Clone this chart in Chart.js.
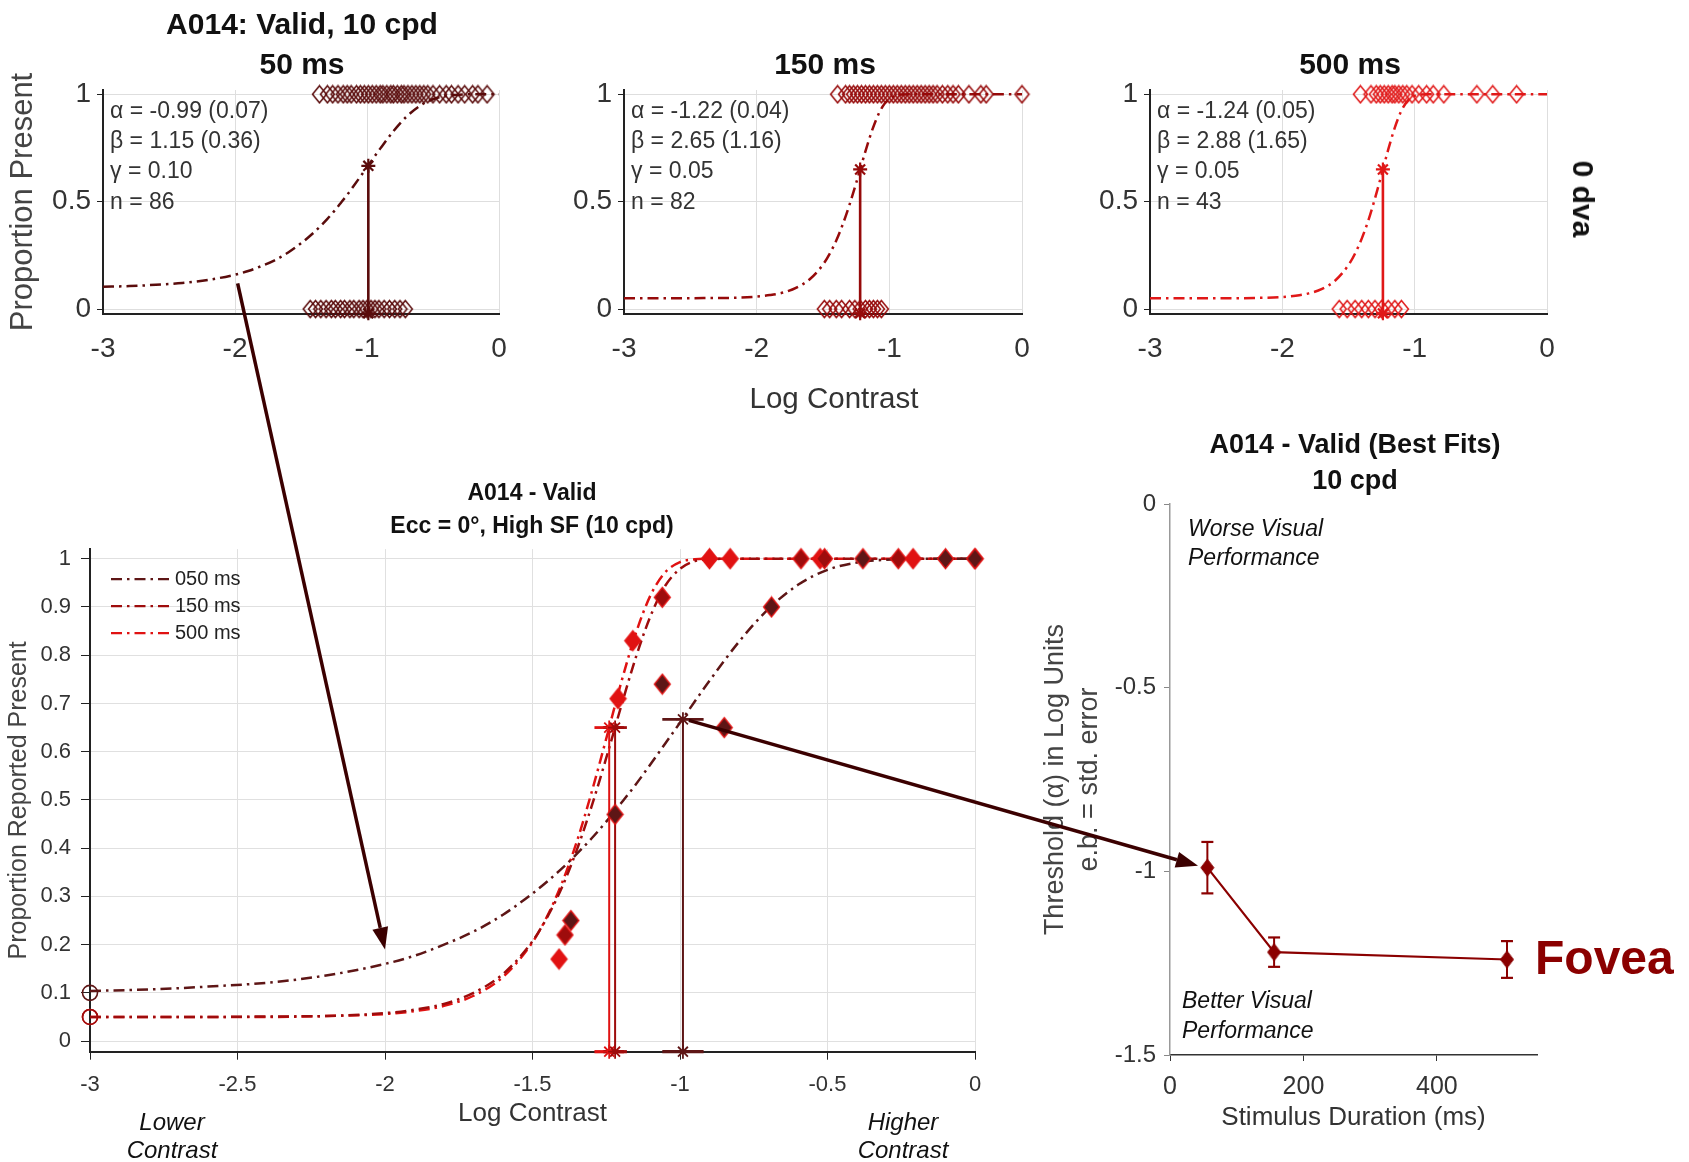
<!DOCTYPE html>
<html>
<head>
<meta charset="utf-8">
<script src="https://cdn.jsdelivr.net/npm/chart.js@4.4.1/dist/chart.umd.min.js"></script>
<style>
html,body{margin:0;padding:0;background:#fff;}
#root{position:relative;width:1689px;height:1162px;overflow:hidden;background:#fff;font-family:"Liberation Sans",Arial,sans-serif;}
canvas{position:absolute;}
.c{position:absolute;white-space:nowrap;transform:translate(-50%,-50%);color:#111;z-index:6;}
.l{position:absolute;white-space:nowrap;transform:translate(0,-50%);color:#333;z-index:6;}
.b{font-weight:bold;}
.n{font-family:"Liberation Sans Narrow","Liberation Sans",Arial,sans-serif;}
.i{font-style:italic;}
</style>
</head>
<body>
<div id="root">
  <canvas id="p1" width="530" height="380" style="left:0;top:0"></canvas>
  <canvas id="p2" width="500" height="380" style="left:540px;top:0"></canvas>
  <canvas id="p3" width="500" height="380" style="left:1066px;top:0"></canvas>
  <canvas id="main" width="1000" height="622" style="left:0;top:540px"></canvas>
  <canvas id="summary" width="669" height="682" style="left:1020px;top:480px"></canvas>
  <canvas id="arrows" width="1689" height="1162" style="left:0;top:0;z-index:5"></canvas>

  <div class="c b" style="left:302px;top:24px;font-size:30px">A014: Valid, 10 cpd</div>
  <div class="c b" style="left:302px;top:64px;font-size:30px">50 ms</div>
  <div class="c b" style="left:825px;top:64px;font-size:30px">150 ms</div>
  <div class="c b" style="left:1350px;top:64px;font-size:30px">500 ms</div>
  <div class="c b" style="left:1583px;top:199px;font-size:30px;transform:translate(-50%,-50%) rotate(90deg)">0 dva</div>
  <div class="c" style="left:834px;top:398px;font-size:29.5px;color:#333">Log Contrast</div>

  <div class="l" style="left:110px;top:110px;font-size:23px">α = -0.99 (0.07)</div>
  <div class="l" style="left:110px;top:140px;font-size:23px">β = 1.15 (0.36)</div>
  <div class="l" style="left:110px;top:170px;font-size:23px">γ = 0.10</div>
  <div class="l" style="left:110px;top:201px;font-size:23px">n = 86</div>

  <div class="l" style="left:631px;top:110px;font-size:23px">α = -1.22 (0.04)</div>
  <div class="l" style="left:631px;top:140px;font-size:23px">β = 2.65 (1.16)</div>
  <div class="l" style="left:631px;top:170px;font-size:23px">γ = 0.05</div>
  <div class="l" style="left:631px;top:201px;font-size:23px">n = 82</div>

  <div class="l" style="left:1157px;top:110px;font-size:23px">α = -1.24 (0.05)</div>
  <div class="l" style="left:1157px;top:140px;font-size:23px">β = 2.88 (1.65)</div>
  <div class="l" style="left:1157px;top:170px;font-size:23px">γ = 0.05</div>
  <div class="l" style="left:1157px;top:201px;font-size:23px">n = 43</div>

  <div class="c b" style="left:532px;top:492px;font-size:23px">A014 - Valid</div>
  <div class="c b" style="left:532px;top:525px;font-size:23px">Ecc = 0°, High SF (10 cpd)</div>
  <div class="c i n" style="left:172px;top:1122px;font-size:24px">Lower</div>
  <div class="c i n" style="left:172px;top:1150px;font-size:24px">Contrast</div>
  <div class="c i n" style="left:903px;top:1122px;font-size:24px">Higher</div>
  <div class="c i n" style="left:903px;top:1150px;font-size:24px">Contrast</div>

  <div class="c b" style="left:1355px;top:444px;font-size:27px">A014 - Valid (Best Fits)</div>
  <div class="c b" style="left:1355px;top:480px;font-size:27px">10 cpd</div>
  <div class="l i" style="left:1188px;top:528px;font-size:23px;color:#111">Worse Visual</div>
  <div class="l i" style="left:1188px;top:557px;font-size:23px;color:#111">Performance</div>
  <div class="l i" style="left:1182px;top:1000px;font-size:23px;color:#111">Better Visual</div>
  <div class="l i" style="left:1182px;top:1030px;font-size:23px;color:#111">Performance</div>
  <div class="l b" style="left:1535px;top:957px;font-size:48px;color:#8b0000">Fovea</div>
</div>

<script>
// ---------- DATA ----------
const logContrastGrid = [-3, -2.8, -2.6, -2.4, -2.2, -2.0, -1.9, -1.8, -1.7, -1.6, -1.5, -1.45, -1.4, -1.35, -1.3, -1.25, -1.2, -1.15, -1.1, -1.05, -1.0, -0.95, -0.9, -0.8, -0.7, -0.6, -0.5, -0.4, -0.3, -0.2, -0.1, 0];
const fit050 = [0.104, 0.107, 0.113, 0.121, 0.136, 0.160, 0.177, 0.200, 0.227, 0.262, 0.306, 0.331, 0.358, 0.388, 0.420, 0.455, 0.493, 0.532, 0.574, 0.617, 0.660, 0.704, 0.747, 0.828, 0.896, 0.946, 0.977, 0.992, 0.998, 1.000, 1.000, 1.000];
const fit150 = [0.050, 0.050, 0.050, 0.051, 0.052, 0.058, 0.065, 0.077, 0.100, 0.139, 0.207, 0.257, 0.319, 0.396, 0.486, 0.587, 0.693, 0.795, 0.881, 0.944, 0.979, 0.995, 0.999, 1.000, 1.000, 1.000, 1.000, 1.000, 1.000, 1.000, 1.000, 1.000];
const fit500 = [0.050, 0.050, 0.050, 0.050, 0.052, 0.056, 0.062, 0.073, 0.094, 0.133, 0.205, 0.259, 0.328, 0.413, 0.515, 0.627, 0.742, 0.845, 0.924, 0.972, 0.993, 0.999, 1.000, 1.000, 1.000, 1.000, 1.000, 1.000, 1.000, 1.000, 1.000, 1.000];

const durationLabels = ['050 ms', '150 ms', '500 ms'];
const alphaFit = [-0.99, -1.22, -1.24];
const alphaSE = [0.07, 0.04, 0.05];
const thresholdLevel = [0.667, 0.650, 0.650];

// single-trial responses (x = log contrast) for the top panels
const present050 = [-1.36, -1.30, -1.26, -1.22, -1.18, -1.15, -1.12, -1.08, -1.05, -1.02, -0.99, -0.96, -0.93, -0.90, -0.88, -0.85, -0.82, -0.80, -0.77, -0.74, -0.72, -0.69, -0.66, -0.63, -0.60, -0.57, -0.54, -0.50, -0.45, -0.40, -0.36, -0.31, -0.26, -0.20, -0.16, -0.09];
const absent050 = [-1.43, -1.39, -1.35, -1.31, -1.27, -1.24, -1.20, -1.17, -1.13, -1.10, -1.06, -1.03, -1.00, -0.97, -0.94, -0.91, -0.87, -0.83, -0.79, -0.75, -0.71];
const present150 = [-1.39, -1.33, -1.30, -1.27, -1.24, -1.21, -1.18, -1.15, -1.12, -1.09, -1.06, -1.03, -1.00, -0.97, -0.94, -0.91, -0.88, -0.85, -0.82, -0.79, -0.76, -0.73, -0.70, -0.67, -0.64, -0.60, -0.56, -0.52, -0.48, -0.40, -0.31, -0.27, 0.0];
const absent150 = [-1.49, -1.45, -1.40, -1.36, -1.30, -1.26, -1.22, -1.18, -1.15, -1.12, -1.09, -1.06];
const present500 = [-1.41, -1.33, -1.29, -1.26, -1.23, -1.20, -1.17, -1.15, -1.12, -1.09, -1.06, -1.02, -0.97, -0.91, -0.86, -0.78, -0.53, -0.41, -0.23];
const absent500 = [-1.57, -1.51, -1.45, -1.40, -1.35, -1.30, -1.25, -1.20, -1.15, -1.10];

// binned proportions for the combined panel
const bin050X = [-1.37, -1.22, -1.06, -0.85, -0.69, -0.38, -0.10, 0.0];
const bin050Y = [0.25, 0.47, 0.74, 0.65, 0.90, 1, 1, 1];
const bin150X = [-1.39, -1.06, -0.59, -0.51, -0.26, 0.0];
const bin150Y = [0.22, 0.92, 1, 1, 1, 1];
const bin500X = [-1.41, -1.21, -1.16, -0.90, -0.83, -0.525, -0.21];
const bin500Y = [0.17, 0.71, 0.83, 1, 1, 1, 1];
const catchX = -3;
const catchY = [0.10, 0.05, 0.05];

// summary panel
const durationMs = [56, 156, 505];

// ticks
const topXTicks = [-3, -2, -1, 0];
const topYTicks = [0, 0.5, 1];
const mainXTicks = [-3, -2.5, -2, -1.5, -1, -0.5, 0];
const mainYTicks = [0, 0.1, 0.2, 0.3, 0.4, 0.5, 0.6, 0.7, 0.8, 0.9, 1];
const sumXTicks = [0, 200, 400];
const sumYTicks = [0, -0.5, -1, -1.5];

// arrows (data coordinates in their panels)
const arrow1From = [-1.98, 0.12];   // top-left panel
const arrow1To = [-2.0, 0.19];      // combined panel
const arrow2From = [-0.97, 0.665];  // combined panel
const arrow2To = [42, -0.985];      // summary panel

// ---------- STYLE ----------
const FONT = '"Liberation Sans", Arial, sans-serif';
const NARROW = '"Liberation Sans Narrow", "Liberation Sans", Arial, sans-serif';
const topColors = ['#5a0c0c', '#960a0a', '#e01818'];
const mainColors = ['#5e1616', '#9e0c0c', '#e01212'];
const DASH = [11, 5, 2.5, 5];

const fits = [fit050, fit150, fit500];
const presents = [present050, present150, present500];
const absents = [absent050, absent150, absent500];

function fixedTicks(arr) { return s => { s.ticks = arr.map(v => ({ value: v })); }; }

// MATLAB-like diamond marker (taller than wide)
function diamond(w, h, stroke, fill, lw) {
  const c = document.createElement('canvas');
  c.width = Math.ceil(w + lw * 2); c.height = Math.ceil(h + lw * 2);
  const g = c.getContext('2d');
  const cx = c.width / 2, cy = c.height / 2;
  g.beginPath();
  g.moveTo(cx, cy - h / 2); g.lineTo(cx + w / 2, cy); g.lineTo(cx, cy + h / 2); g.lineTo(cx - w / 2, cy); g.closePath();
  if (fill) { g.fillStyle = fill; g.fill(); }
  if (stroke) { g.strokeStyle = stroke; g.lineWidth = lw; g.stroke(); }
  return c;
}

function topPanel(id, k, yW, padR, withTitle) {
  const color = topColors[k];
  const mk = diamond(14, 17, color, null, 1.5);
  return new Chart(document.getElementById(id), {
    type: 'line',
    data: { datasets: [
      { data: presents[k].map(x => ({ x, y: 1 })), showLine: false, pointStyle: mk, clip: false, order: 1 },
      { data: absents[k].map(x => ({ x, y: 0 })), showLine: false, pointStyle: mk, clip: false, order: 1 },
      { data: [{ x: alphaFit[k], y: thresholdLevel[k] }, { x: alphaFit[k], y: -0.02 }], borderColor: color, borderWidth: 2.6,
        pointStyle: 'star', pointRadius: 7, pointBorderColor: color, pointBorderWidth: 2.2, clip: false, order: 0 },
      { data: logContrastGrid.map((x, i) => ({ x, y: fits[k][i] })), borderColor: color, borderWidth: 2.5, borderDash: DASH,
        pointRadius: 0, cubicInterpolationMode: 'monotone', order: 2 }
    ]},
    options: {
      responsive: false, animation: false, events: [],
      layout: { padding: { left: 0, right: padR, top: 90, bottom: 0 } },
      plugins: { legend: { display: false }, tooltip: { enabled: false } },
      scales: {
        x: { type: 'linear', min: -3, max: 0, afterBuildTicks: fixedTicks(topXTicks),
          afterFit: s => { s.height = 66; s.paddingLeft = 0; s.paddingRight = 0; },
          grid: { color: '#dedede', lineWidth: 1, drawTicks: false },
          border: { display: true, color: '#222', width: 2 },
          ticks: { padding: 18, color: '#333', font: { size: 28, family: FONT }, maxRotation: 0, autoSkip: false, callback: v => String(v) } },
        y: { type: 'linear', min: -0.023, max: 1.02, afterBuildTicks: fixedTicks(topYTicks),
          afterFit: s => { s.width = yW; s.paddingTop = 0; s.paddingBottom = 0; },
          grid: { color: '#dedede', lineWidth: 1, tickLength: 6, tickColor: '#222' },
          border: { display: true, color: '#222', width: 2 },
          ticks: { padding: 6, color: '#333', font: { size: 28, family: FONT }, callback: v => String(v) },
          title: withTitle ? { display: true, text: 'Proportion Present', color: '#444', font: { size: 31, family: FONT }, padding: { top: 5, bottom: 0 } } : { display: false } }
      }
    }
  });
}

const p1 = topPanel('p1', 0, 103, 31, true);
const p2 = topPanel('p2', 1, 84, 18, false);
const p3 = topPanel('p3', 2, 84, 19, false);

// ---------- combined panel ----------
const insideLegend = {
  id: 'insideLegend',
  afterDraw(chart) {
    const { ctx, chartArea } = chart;
    ctx.save();
    durationLabels.forEach((lab, k) => {
      const y = chartArea.top + 30 + k * 27;
      ctx.strokeStyle = mainColors[k]; ctx.lineWidth = 2.4; ctx.setLineDash(DASH);
      ctx.beginPath(); ctx.moveTo(chartArea.left + 21, y); ctx.lineTo(chartArea.left + 80, y); ctx.stroke();
      ctx.setLineDash([]);
      ctx.fillStyle = '#222'; ctx.font = '20px ' + FONT; ctx.textBaseline = 'middle'; ctx.textAlign = 'left';
      ctx.fillText(lab, chartArea.left + 85, y);
    });
    ctx.restore();
  }
};

const BOT = -0.022;
const binsX = [bin050X, bin150X, bin500X];
const binsY = [bin050Y, bin150Y, bin500Y];
const mainSets = [];
[0, 1, 2].forEach(k => {
  const c = mainColors[k];
  mainSets.push({ label: durationLabels[k], data: logContrastGrid.map((x, i) => ({ x, y: fits[k][i] })), borderColor: c, borderWidth: 2.5,
    borderDash: DASH, pointRadius: 0, cubicInterpolationMode: 'monotone', order: 4 });
  mainSets.push({ data: [{ x: catchX, y: catchY[k] }], showLine: false, pointStyle: 'circle', pointRadius: 7.5, pointBorderWidth: 1.6,
    pointBorderColor: c, pointBackgroundColor: 'rgba(255,255,255,0)', clip: false, order: 1 });
  mainSets.push({ data: [{ x: alphaFit[k], y: thresholdLevel[k] }, { x: alphaFit[k], y: BOT }], borderColor: c, borderWidth: 2,
    pointRadius: 0, clip: false, order: 2 });
  mainSets.push({ data: [{ x: alphaFit[k] - alphaSE[k], y: thresholdLevel[k] }, { x: alphaFit[k] + alphaSE[k], y: thresholdLevel[k] }],
    borderColor: c, borderWidth: 2.8, pointRadius: 0, clip: false, order: 2 });
  mainSets.push({ data: [{ x: alphaFit[k] - alphaSE[k], y: BOT }, { x: alphaFit[k] + alphaSE[k], y: BOT }],
    borderColor: c, borderWidth: 3.2, pointRadius: 0, clip: false, order: 2 });
  mainSets.push({ data: [{ x: alphaFit[k], y: thresholdLevel[k] }, { x: alphaFit[k], y: BOT }], showLine: false, pointStyle: 'star',
    pointRadius: 7, pointBorderWidth: 1.8, pointBorderColor: c, clip: false, order: 1 });
  mainSets.push({ data: binsX[k].map((x, i) => ({ x, y: binsY[k][i] })), showLine: false,
    pointStyle: diamond(16, 20, '#e41414', c, 1.3), clip: false, order: 0 });
});

const main = new Chart(document.getElementById('main'), {
  type: 'line',
  data: { datasets: mainSets },
  plugins: [insideLegend],
  options: {
    responsive: false, animation: false, events: [],
    layout: { padding: { left: 0, right: 25, top: 6.3, bottom: 0 } },
    plugins: { legend: { display: false }, tooltip: { enabled: false } },
    scales: {
      x: { type: 'linear', min: -3, max: 0, afterBuildTicks: fixedTicks(mainXTicks),
        afterFit: s => { s.height = 110.3; s.paddingLeft = 0; s.paddingRight = 0; },
        grid: { color: '#e0e0e0', lineWidth: 1, tickLength: 8, tickColor: '#222' },
        border: { display: true, color: '#222', width: 2 },
        ticks: { padding: 12, color: '#333', font: { size: 22, family: NARROW }, maxRotation: 0, autoSkip: false, callback: v => String(v) },
        title: { display: true, text: 'Log Contrast', color: '#333', font: { size: 26, family: NARROW }, padding: { top: 0, bottom: 33 } } },
      y: { type: 'linear', min: BOT, max: 1.02, afterBuildTicks: fixedTicks(mainYTicks),
        afterFit: s => { s.width = 90; s.paddingTop = 0; s.paddingBottom = 0; },
        grid: { color: '#e0e0e0', lineWidth: 1, tickLength: 9, tickColor: '#222' },
        border: { display: true, color: '#222', width: 2 },
        ticks: { padding: 10, color: '#333', font: { size: 22, family: FONT }, callback: v => String(v) },
        title: { display: true, text: 'Proportion Reported Present', color: '#444', font: { size: 25, family: FONT }, padding: { top: 4, bottom: 0 } } }
    }
  }
});

// ---------- summary panel ----------
const SUMC = '#8b0000';
const sumSets = [{ data: durationMs.map((x, i) => ({ x, y: alphaFit[i] })), borderColor: SUMC, borderWidth: 2.2,
  pointStyle: diamond(13, 17, SUMC, SUMC, 1), tension: 0, clip: false, order: 0 }];
durationMs.forEach((x, i) => {
  sumSets.push({ data: [{ x, y: alphaFit[i] - alphaSE[i] }, { x, y: alphaFit[i] + alphaSE[i] }], borderColor: SUMC, borderWidth: 2,
    pointStyle: 'line', pointRadius: 6, pointBorderWidth: 2.2, pointBorderColor: SUMC, clip: false, order: 1 });
});

const summary = new Chart(document.getElementById('summary'), {
  type: 'line',
  data: { datasets: sumSets },
  options: {
    responsive: false, animation: false, events: [],
    layout: { padding: { left: 0, right: 152, top: 24, bottom: 0 } },
    plugins: { legend: { display: false }, tooltip: { enabled: false } },
    scales: {
      x: { type: 'linear', min: 0, max: 550, afterBuildTicks: fixedTicks(sumXTicks),
        afterFit: s => { s.height = 107; s.paddingLeft = 0; s.paddingRight = 0; },
        grid: { drawOnChartArea: false, tickLength: 6, tickColor: '#333' },
        border: { display: true, color: '#333', width: 1.5 },
        ticks: { padding: 11, color: '#333', font: { size: 25, family: FONT }, maxRotation: 0, autoSkip: false, callback: v => String(v) },
        title: { display: true, text: 'Stimulus Duration (ms)', color: '#333', font: { size: 26, family: FONT }, padding: { top: 0, bottom: 29 } } },
      y: { type: 'linear', min: -1.5, max: 0, afterBuildTicks: fixedTicks(sumYTicks),
        afterFit: s => { s.width = 150; s.paddingTop = 0; s.paddingBottom = 0; },
        grid: { drawOnChartArea: false, tickLength: 6, tickColor: '#888' },
        border: { display: true, color: '#999', width: 1.5 },
        ticks: { padding: 8, color: '#333', font: { size: 24, family: FONT }, callback: v => String(v) },
        title: { display: true, text: ['Threshold (α) in Log Units', 'e.b. = std. error'], color: '#444',
          font: { size: 27, family: FONT, lineHeight: 1.26 }, padding: { top: 19, bottom: 0 } } }
    }
  }
});

// ---------- arrows ----------
function pagePt(chart, xv, yv) {
  const c = chart.canvas;
  return [c.offsetLeft + chart.scales.x.getPixelForValue(xv), c.offsetTop + chart.scales.y.getPixelForValue(yv)];
}
function drawArrow(ctx, p, q) {
  const ang = Math.atan2(q[1] - p[1], q[0] - p[0]);
  const L = 22, W = 8;
  const bx = q[0] - L * Math.cos(ang), by = q[1] - L * Math.sin(ang);
  ctx.beginPath(); ctx.moveTo(p[0], p[1]); ctx.lineTo(bx, by); ctx.stroke();
  ctx.beginPath();
  ctx.moveTo(q[0], q[1]);
  ctx.lineTo(bx + W * Math.sin(ang), by - W * Math.cos(ang));
  ctx.lineTo(bx - W * Math.sin(ang), by + W * Math.cos(ang));
  ctx.closePath(); ctx.fill();
}
const actx = document.getElementById('arrows').getContext('2d');
actx.strokeStyle = '#3b0000'; actx.fillStyle = '#3b0000'; actx.lineWidth = 3.5; actx.lineCap = 'butt';
drawArrow(actx, pagePt(p1, arrow1From[0], arrow1From[1]), pagePt(main, arrow1To[0], arrow1To[1]));
drawArrow(actx, pagePt(main, arrow2From[0], arrow2From[1]), pagePt(summary, arrow2To[0], arrow2To[1]));
</script>
</body>
</html>
